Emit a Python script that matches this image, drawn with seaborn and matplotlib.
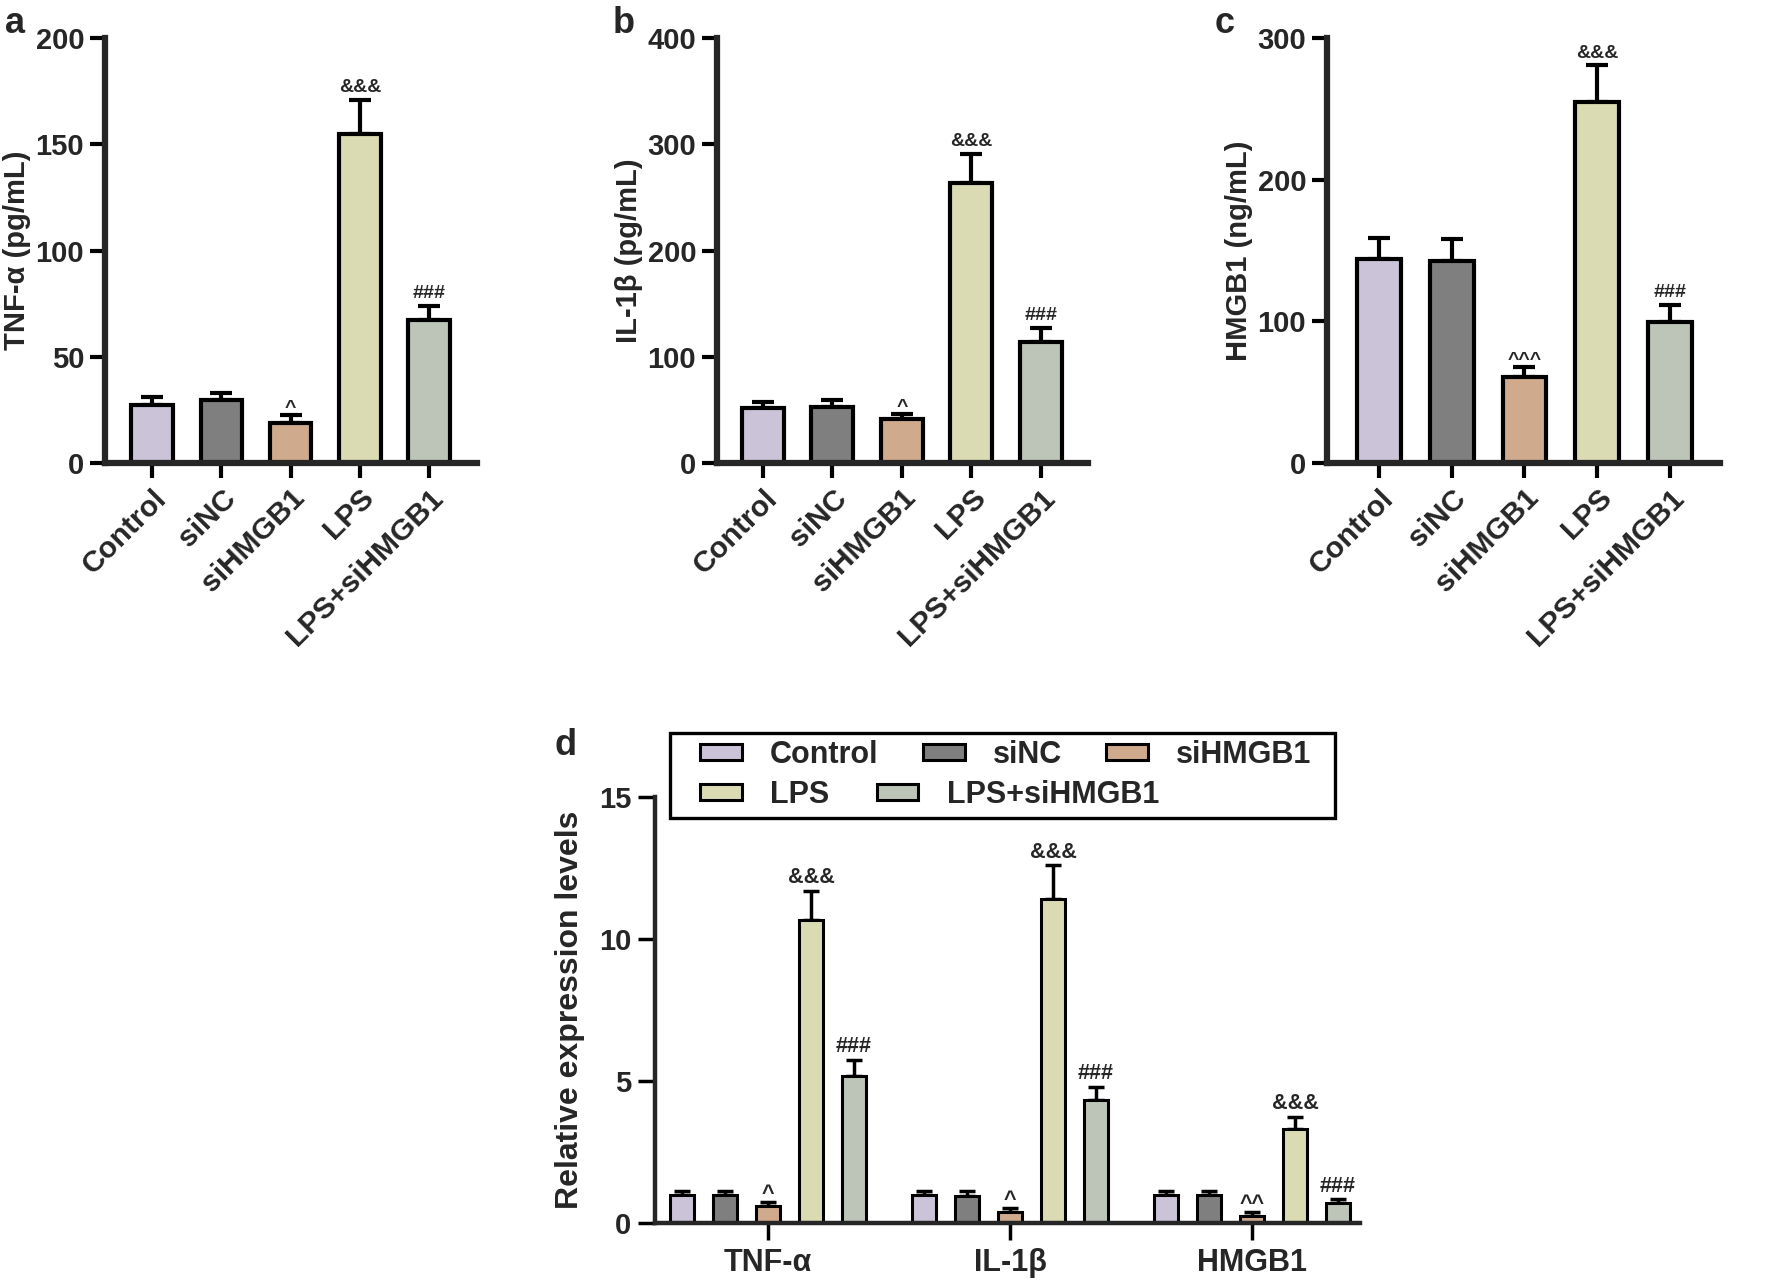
import matplotlib
matplotlib.use('Agg')
import matplotlib.pyplot as plt
from matplotlib.patches import Patch, Rectangle
import numpy as np
import pandas as pd
import seaborn as sns

groups = ['Control', 'siNC', 'siHMGB1', 'LPS', 'LPS+siHMGB1']
colors = ['#CBC3D8', '#7F7F7F', '#CFAA8C', '#DADBB2', '#BDC5B9']

# panel a-c: ELISA
tnf_mean = [27.3, 29.6, 18.8, 155.0, 67.3]
tnf_err = [3.7, 3.4, 3.8, 16.0, 6.7]
tnf_marks = ['', '', '^', '&&&', '###']

il1b_mean = [51.8, 52.7, 41.0, 263.5, 114.0]
il1b_err = [6.0, 6.5, 5.0, 27.5, 13.0]
il1b_marks = ['', '', '^', '&&&', '###']

hmgb1_mean = [144.0, 142.6, 60.7, 254.8, 99.5]
hmgb1_err = [14.8, 15.4, 7.1, 26.0, 12.0]
hmgb1_marks = ['', '', '^^^', '&&&', '###']

# panel d: relative expression, one list per group (TNF-a, IL-1b, HMGB1)
genes = ['TNF-α', 'IL-1β', 'HMGB1']
rel_mean = {
    'Control': [0.97, 0.97, 0.97],
    'siNC': [0.98, 0.96, 0.97],
    'siHMGB1': [0.60, 0.39, 0.25],
    'LPS': [10.67, 11.40, 3.30],
    'LPS+siHMGB1': [5.18, 4.33, 0.70],
}
rel_err = {
    'Control': [0.15, 0.15, 0.15],
    'siNC': [0.15, 0.16, 0.15],
    'siHMGB1': [0.14, 0.14, 0.14],
    'LPS': [1.03, 1.20, 0.43],
    'LPS+siHMGB1': [0.56, 0.47, 0.14],
}
rel_marks = {
    'Control': ['', '', ''],
    'siNC': ['', '', ''],
    'siHMGB1': ['^', '^', '^^'],
    'LPS': ['&&&', '&&&', '&&&'],
    'LPS+siHMGB1': ['###', '###', '###'],
}

sns.set_theme(style='ticks')
plt.rcParams['font.family'] = ['Liberation Sans', 'DejaVu Sans']
plt.rcParams['font.weight'] = 'bold'
plt.rcParams['axes.labelweight'] = 'bold'

W, H = 1770, 1285
fig = plt.figure(figsize=(W / 100, H / 100), dpi=100)


def px_axes(left, right, top, bottom):
    return fig.add_axes([left / W, 1 - bottom / H, (right - left) / W, (bottom - top) / H])


def mark(ax, x, y, txt, fs):
    if not txt:
        return
    off = 1.5 if txt.startswith('^') else 5.5
    ax.annotate(txt, (x, y), xytext=(0, off), textcoords='offset points',
                ha='center', va='baseline', fontsize=fs, fontweight='bold')


def simple_panel(ax, means, errs, marks, ylabel, ymax, ystep, xlim):
    df = pd.DataFrame({'group': groups, 'value': means})
    sns.barplot(data=df, x='group', y='value', hue='group', palette=colors,
                saturation=1, width=0.6, edgecolor='black', linewidth=3,
                errorbar=None, legend=False, ax=ax)
    x = np.arange(len(groups))
    ax.errorbar(x, means, yerr=[np.zeros(len(x)), errs], fmt='none',
                ecolor='black', elinewidth=3, capsize=8, capthick=3, zorder=0.5)
    for i, m in enumerate(marks):
        mark(ax, i, means[i] + errs[i], m, 14)
    ax.set_ylim(0, ymax)
    ax.set_xlim(*xlim)
    ax.set_yticks(np.arange(0, ymax + 1, ystep))
    ax.set_xticks(x)
    ax.set_xticklabels(groups, rotation=45, ha='right', va='top',
                       rotation_mode='anchor', fontsize=21.5)
    ax.set_xlabel('')
    ax.set_ylabel(ylabel, fontsize=21, labelpad=3)
    sns.despine(ax=ax)
    for s in ['left', 'bottom']:
        ax.spines[s].set_linewidth(4.5)
    ax.tick_params(axis='both', width=3, length=11, color='black')
    ax.tick_params(axis='y', labelsize=21, pad=4)
    ax.tick_params(axis='x', pad=4)


ax_a = px_axes(105, 477, 38, 463)
simple_panel(ax_a, tnf_mean, tnf_err, tnf_marks, 'TNF-α (pg/mL)', 200, 50, (-0.68, 4.69))
ax_b = px_axes(717, 1088, 38, 463)
simple_panel(ax_b, il1b_mean, il1b_err, il1b_marks, 'IL-1β (pg/mL)', 400, 100, (-0.66, 4.68))
ax_c = px_axes(1327, 1720, 38, 463)
simple_panel(ax_c, hmgb1_mean, hmgb1_err, hmgb1_marks, 'HMGB1 (ng/mL)', 300, 100, (-0.715, 4.69))

# panel d
ax_d = px_axes(655, 1360, 797, 1223)
long = pd.DataFrame([(g, grp, rel_mean[grp][k]) for grp in groups for k, g in enumerate(genes)],
                    columns=['gene', 'group', 'value'])
sns.barplot(data=long, x='gene', y='value', hue='group', order=genes, hue_order=groups,
            palette=colors, saturation=1, width=0.889, gap=0.44, edgecolor='black',
            linewidth=2.2, errorbar=None, legend=False, ax=ax_d)
bars = sorted(ax_d.patches, key=lambda p: p.get_x())
k = 0
for gi in range(len(genes)):
    for grp in groups:
        p = bars[k]
        xc = p.get_x() + p.get_width() / 2
        m = rel_mean[grp][gi]
        e = rel_err[grp][gi]
        ax_d.errorbar([xc], [m], yerr=[[0], [e]], fmt='none', ecolor='black',
                      elinewidth=2.5, capsize=6, capthick=2.5, zorder=0.5)
        mark(ax_d, xc, m + e, rel_marks[grp][gi], 15.5)
        k += 1
ax_d.set_ylim(0, 15)
ax_d.set_xlim(-0.467, 2.446)
ax_d.set_yticks([0, 5, 10, 15])
ax_d.set_xlabel('')
ax_d.set_ylabel('Relative expression levels', fontsize=23, labelpad=10)
sns.despine(ax=ax_d)
for s in ['left', 'bottom']:
    ax_d.spines[s].set_linewidth(3.2)
ax_d.tick_params(axis='both', width=2.5, length=12, color='black')
ax_d.tick_params(axis='y', labelsize=21, pad=5)
ax_d.tick_params(axis='x', labelsize=22, pad=6)

# legend: two rows inside one frame
handles = [Patch(facecolor=c, edgecolor='black', linewidth=2.2, label=g) for g, c in zip(groups, colors)]
leg_kw = dict(frameon=False, fontsize=22, handlelength=1.37, handleheight=0.45,
              handletextpad=0.92, borderpad=0, borderaxespad=0, loc='center left',
              bbox_transform=fig.transFigure)
leg1 = fig.legend(handles=handles[:3], ncol=3, columnspacing=1.45,
                  bbox_to_anchor=(700 / W, 1 - 755 / H), **leg_kw)
leg2 = fig.legend(handles=handles[3:], ncol=2, columnspacing=1.55,
                  bbox_to_anchor=(700 / W, 1 - 795 / H), **leg_kw)
fig.add_artist(Rectangle((670 / W, 1 - 818 / H), (1335 - 670) / W, (818 - 733) / H,
                         transform=fig.transFigure, fill=False, lw=2.4, edgecolor='black'))

for lbl, x, y in [('a', 5, 33), ('b', 613, 33), ('c', 1215, 33), ('d', 555, 755)]:
    fig.text(x / W, 1 - y / H, lbl, fontsize=26, fontweight='bold', ha='left', va='baseline')

fig.savefig('out.png', dpi=100)
